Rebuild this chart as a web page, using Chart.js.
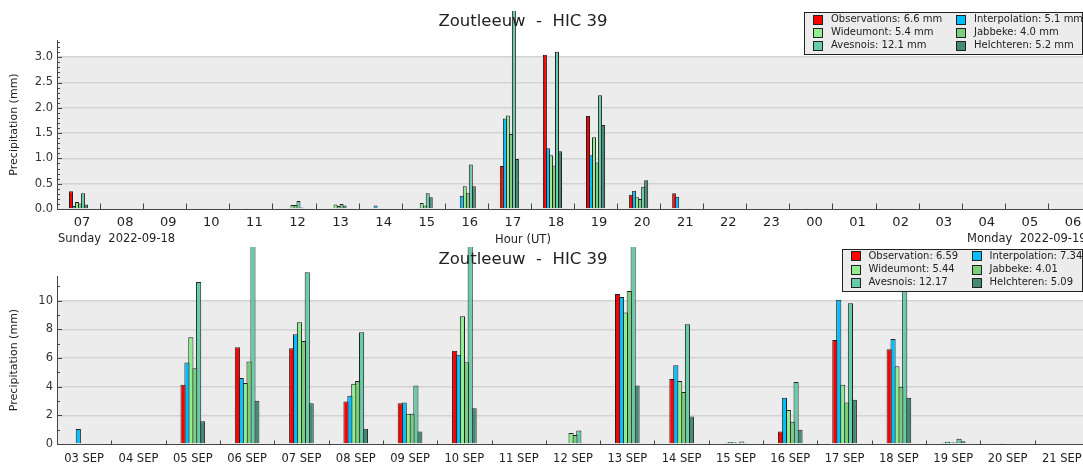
<!DOCTYPE html>
<html>
<head>
<meta charset="utf-8">
<script src="https://cdn.jsdelivr.net/npm/chart.js@4.4.0/dist/chart.umd.min.js"></script>
<style>
  html, body { margin: 0; padding: 0; background: #fff; overflow: hidden; width: 1083px; height: 464px; }
  #hourlyChart { position: absolute; left: 0; top: 0; }
  #dailyChart { position: absolute; left: 0; top: 247px; }
</style>
</head>
<body>
<canvas id="hourlyChart" width="1091" height="247"></canvas>
<canvas id="dailyChart" width="1089" height="217"></canvas>
<script>
// ---- hourly data (mm), 2022-09-18 07h .. 2022-09-19 06h ----
const hourLabels = ['07','08','09','10','11','12','13','14','15','16','17','18',
                    '19','20','21','22','23','00','01','02','03','04','05','06'];
const hourObservations = [0.35,0,0,0,0,0,0,0,0,0,0.85,3.05,1.84,0.28,0.31,0,0,0,0,0,0,0,0,0];
const hourInterpolation = [0.06,0,0,0.02,0.02,0.02,0.02,0.07,0.02,0.26,1.79,1.20,1.06,0.36,0.24,0,0.02,0.02,0,0.02,0,0,0,0];
const hourWideumont = [0.14,0,0,0,0,0.08,0.09,0,0.12,0.45,1.85,1.06,1.42,0.23,0,0,0,0,0,0,0,0,0,0];
const hourJabbeke = [0.11,0,0,0,0,0.08,0.06,0,0.07,0.31,1.48,0.86,0.92,0.20,0,0,0,0,0,0,0,0,0,0];
const hourAvesnois = [0.31,0,0,0,0,0.16,0.10,0,0.31,0.88,4.54,3.11,2.25,0.44,0,0,0,0,0,0,0,0,0,0];
const hourHelchteren = [0.09,0,0,0,0,0.03,0.07,0,0.23,0.45,0.99,1.14,1.66,0.57,0.02,0,0,0,0,0,0,0,0,0];
const hourLegend = ['Observations: 6.6 mm','Interpolation: 5.1 mm','Wideumont: 5.4 mm',
                    'Jabbeke: 4.0 mm','Avesnois: 12.1 mm','Helchteren: 5.2 mm'];

// ---- daily data (mm) ----
const dayLabels = ['03 SEP','04 SEP','05 SEP','06 SEP','07 SEP','08 SEP','09 SEP','10 SEP','11 SEP','12 SEP',
                   '13 SEP','14 SEP','15 SEP','16 SEP','17 SEP','18 SEP','19 SEP','20 SEP','21 SEP'];
const dayObservation = [0,0,4.13,6.75,6.68,2.97,2.85,6.50,0,0,10.47,4.53,0.03,0.88,7.26,6.61,0.09,0,0];
const dayInterpolation = [1.04,0,5.68,4.60,7.66,3.36,2.90,6.22,0,0,10.26,5.50,0.14,3.22,10.07,7.33,0.16,0.04,0];
const dayWideumont = [0,0,7.45,4.25,8.50,4.20,2.11,8.91,0,0.77,9.17,4.39,0.12,2.37,4.13,5.43,0.10,0,0];
const dayJabbeke = [0.05,0,5.29,5.75,7.19,4.39,2.11,5.71,0,0.63,10.68,3.62,0.07,1.55,2.90,3.99,0.10,0,0];
const dayAvesnois = [0.05,0,11.30,14.80,11.98,7.80,4.08,13.90,0,0.95,15.20,8.36,0.18,4.32,9.82,12.17,0.37,0,0];
const dayHelchteren = [0,0,1.58,3.02,2.85,1.07,0.88,2.50,0,0.04,4.08,1.92,0.07,1.00,3.08,3.22,0.20,0,0];
const dayLegend = ['Observation: 6.59','Interpolation: 7.34','Wideumont: 5.44',
                   'Jabbeke: 4.01','Avesnois: 12.17','Helchteren: 5.09'];

const seriesNames = ['Observations','Interpolation','Wideumont','Jabbeke','Avesnois','Helchteren'];
const seriesColors = ['#ff0000','#00bfff','#90ee90','#7ccd7c','#66cdaa','#458b74'];

const FONT = '"DejaVu Sans", sans-serif';
Chart.defaults.font.family = FONT;
Chart.defaults.color = '#222';

// background shading, inward axis ticks, title, notes and the boxed legend
const decor = {
  id: 'decor',
  beforeDraw(chart, args, opts) {
    const { ctx, chartArea } = chart;
    const y = chart.scales.y;
    const top = y.getPixelForValue(opts.shadeTop);
    ctx.save();
    ctx.fillStyle = '#ececec';
    ctx.fillRect(chartArea.left, top, chartArea.right - chartArea.left, y.getPixelForValue(0) - top);
    ctx.restore();
  },
  afterDraw(chart, args, opts) {
    const { ctx, chartArea } = chart;
    const { x, y } = chart.scales;
    const yZero = Math.round(y.getPixelForValue(0)) + 0.5;
    const left = Math.round(chartArea.left) + 0.5;
    ctx.save();
    ctx.strokeStyle = '#444';
    ctx.lineWidth = 1;
    ctx.beginPath();
    for (let i = 0; i * opts.minorStep <= y.max; i++) {
      const py = Math.round(y.getPixelForValue(i * opts.minorStep)) + 0.5;
      const len = i % opts.majorEvery === 0 ? 4.5 : 2.5;
      ctx.moveTo(left, py);
      ctx.lineTo(left + len, py);
    }
    const half = (x.getPixelForValue(1) - x.getPixelForValue(0)) / 2;
    for (let i = 0; i < x.ticks.length; i++) {
      const px = Math.round(x.getPixelForValue(i) + half) + 0.5;
      ctx.moveTo(px, yZero);
      ctx.lineTo(px, yZero - opts.xTickLen);
    }
    ctx.stroke();

    ctx.fillStyle = '#222';
    ctx.textBaseline = 'middle';
    ctx.textAlign = 'center';
    ctx.font = '16.5px ' + FONT;
    ctx.fillText(opts.title, opts.titleX, opts.titleY);
    (opts.notes || []).forEach(n => {
      ctx.font = n.size + 'px ' + FONT;
      ctx.textAlign = n.align;
      ctx.fillText(n.text, n.x, n.y);
    });

    const lg = opts.legend;
    ctx.fillStyle = '#ececec';
    ctx.fillRect(lg.x, lg.y, lg.w, lg.h);
    ctx.strokeStyle = '#222';
    ctx.strokeRect(lg.x + 0.5, lg.y + 0.5, lg.w, lg.h);
    ctx.font = '10px ' + FONT;
    ctx.textAlign = 'left';
    chart.data.datasets.forEach((ds, i) => {
      const sx = lg.swatchX[i % 2];
      const cy = lg.rowY[Math.floor(i / 2)];
      ctx.fillStyle = ds.backgroundColor;
      ctx.fillRect(sx, Math.round(cy - 5), lg.box, lg.box);
      ctx.strokeRect(sx + 0.5, Math.round(cy - 5) + 0.5, lg.box - 1, lg.box - 1);
      ctx.fillStyle = '#222';
      ctx.fillText(lg.labels[i], sx + lg.box + lg.gap, cy);
    });
    ctx.restore();
  }
};

function makeDatasets(series, catPct) {
  return series.map((values, i) => ({
    label: seriesNames[i],
    data: values,
    backgroundColor: seriesColors[i],
    borderColor: '#222',
    borderWidth: 1,
    borderSkipped: 'start',
    categoryPercentage: catPct,
    // bars are a third wider than their slot so neighbours share one outline
    barPercentage: 1.33,
    clip: { left: 0, top: 29, right: 0, bottom: 0 }
  }));
}

function makeOptions(cfg) {
  return {
    responsive: false,
    animation: false,
    layout: { padding: { top: cfg.padTop, left: 0, right: 0, bottom: 0 } },
    plugins: {
      legend: { display: false },
      tooltip: { enabled: false },
      decor: cfg.decor
    },
    scales: {
      x: {
        grid: { display: false },
        border: { display: true, color: '#444', width: 1 },
        ticks: {
          color: '#222',
          font: { size: cfg.xFont },
          padding: cfg.xPad,
          labelOffset: cfg.xLabelOffset,
          maxRotation: 0,
          autoSkip: false
        },
        afterFit: s => { s.height = cfg.xHeight; }
      },
      y: {
        min: 0,
        max: cfg.yMax,
        grid: {
          drawTicks: false,
          lineWidth: 1.5,
          color: c => (c.tick && c.tick.value === 0) ? 'rgba(0,0,0,0)' : '#d3d3d3'
        },
        border: { display: true, color: '#444', width: 1 },
        ticks: {
          stepSize: cfg.yStep,
          includeBounds: false,
          padding: 4,
          color: '#333',
          font: { size: 11.5 },
          callback: cfg.yFormat
        },
        title: {
          display: true,
          text: 'Precipitation (mm)',
          font: { size: 11 },
          color: '#222',
          padding: { top: 8, bottom: 0 }
        },
        afterFit: s => { s.width = 57; }
      }
    }
  };
}

new Chart(document.getElementById('hourlyChart'), {
  type: 'bar',
  plugins: [decor],
  data: {
    labels: hourLabels,
    datasets: makeDatasets([hourObservations, hourInterpolation, hourWideumont,
                            hourJabbeke, hourAvesnois, hourHelchteren], 0.42)
  },
  options: makeOptions({
    padTop: 40, xHeight: 38, xFont: 13, xPad: -2.5, xLabelOffset: 3.5,
    yMax: 3.34, yStep: 0.5, yFormat: v => v.toFixed(1),
    decor: {
      shadeTop: 3.0, minorStep: 0.1, majorEvery: 5, xTickLen: 6,
      title: 'Zoutleeuw  -  HIC 39', titleX: 523, titleY: 22,
      notes: [
        { text: 'Sunday  2022-09-18', x: 58, y: 239, align: 'left', size: 11.5 },
        { text: 'Hour (UT)', x: 523, y: 240, align: 'center', size: 11.5 },
        { text: 'Monday  2022-09-19', x: 967, y: 239, align: 'left', size: 11.5 }
      ],
      legend: {
        x: 804, y: 12, w: 278, h: 42, box: 10, gap: 8,
        swatchX: [813, 956], rowY: [19.5, 32.5, 45.5], labels: hourLegend
      }
    }
  })
});

new Chart(document.getElementById('dailyChart'), {
  type: 'bar',
  plugins: [decor],
  data: {
    labels: dayLabels,
    datasets: makeDatasets([dayObservation, dayInterpolation, dayWideumont,
                            dayJabbeke, dayAvesnois, dayHelchteren], 0.43)
  },
  options: makeOptions({
    padTop: 29, xHeight: 20, xFont: 11.5, xPad: 0, xLabelOffset: 0,
    yMax: 11.72, yStep: 2, yFormat: v => String(v),
    decor: {
      shadeTop: 10, minorStep: 1, majorEvery: 2, xTickLen: 4,
      title: 'Zoutleeuw  -  HIC 39', titleX: 523, titleY: 12.5,
      notes: [],
      legend: {
        x: 842, y: 2, w: 240, h: 42, box: 10, gap: 7.5,
        swatchX: [851, 972], rowY: [9, 22.5, 35.5], labels: dayLegend
      }
    }
  })
});
</script>
</body>
</html>
